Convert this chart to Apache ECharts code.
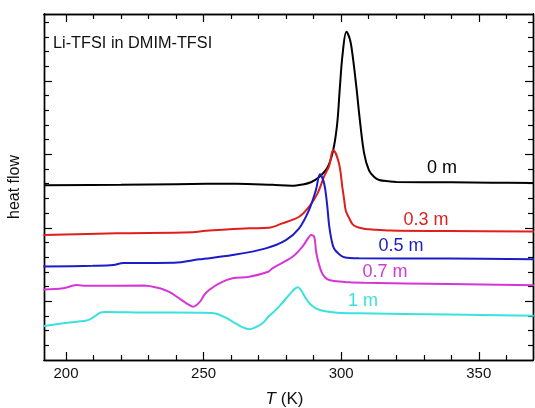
<!DOCTYPE html>
<html>
<head>
<meta charset="utf-8">
<script src="https://cdn.jsdelivr.net/npm/echarts@6/dist/echarts.min.js"></script>
<style>html,body{margin:0;padding:0;background:#fff}#c{width:535px;height:408px}</style>
</head>
<body>
<div id="c"></div>
<script>
// Temperature (K) and heat-flow (arbitrary units, stacked offsets)
var t0m = [192, 220, 240, 262, 275, 282, 286, 289, 292, 295, 297, 298.5, 299.5, 300.5, 301.9, 303.2, 304.1, 305.5, 306.8, 308.3, 310.1, 312, 313.8, 317.4, 320, 340, 355, 369.7];
var y0m = [11.90, 11.93, 11.97, 12.0, 11.92, 11.86, 11.95, 12.1, 12.45, 13.1, 14.2, 16.0, 18.5, 20.8, 22.35, 21.8, 20.8, 18.6, 16.3, 14.1, 12.9, 12.45, 12.25, 12.16, 12.12, 12.1, 12.07, 12.04];

var t03 = [191.8, 218.2, 246.0, 250.8, 266.6, 273.6, 278.6, 284.7, 288.3, 291.4, 293.8, 295.6, 297.1, 299.2, 300.4, 301.1, 301.7, 302.9, 304.1, 305.4, 308.3, 310.1, 318.0, 339.2, 370];
var y03 = [8.50, 8.62, 8.69, 8.80, 8.96, 9.0, 9.30, 9.75, 10.43, 11.34, 12.5, 13.2, 14.29, 13.38, 11.79, 10.88, 10.14, 9.66, 9.25, 9.08, 8.93, 8.90, 8.81, 8.78, 8.74];

var t05 = [191.8, 209.7, 217.2, 220.8, 239.3, 248.4, 260.5, 272.6, 279.9, 284.7, 288.3, 290.8, 292.3, 293.8, 294.9, 295.6, 296.5, 297.4, 299.2, 301.1, 306.5, 339.2, 370];
var y05 = [6.36, 6.41, 6.46, 6.60, 6.62, 6.85, 7.14, 7.60, 8.16, 8.96, 10.20, 11.56, 12.65, 12.02, 10.54, 9.18, 8.16, 7.59, 7.21, 6.99, 6.92, 6.90, 6.86];

var t07 = [191.8, 199.0, 203.8, 207.5, 228.1, 234.1, 237.5, 240.2, 243.8, 246.2, 248.7, 250.2, 252.0, 255.7, 260.5, 266.6, 273.5, 275.0, 282.3, 285.9, 288.0, 289.0, 290.2, 290.9, 292.0, 293.2, 294.9, 297.4, 302.9, 308.3, 339.2, 370];
var y07 = [4.80, 4.88, 5.10, 5.05, 5.07, 4.88, 4.63, 4.31, 3.86, 3.63, 3.97, 4.42, 4.76, 5.22, 5.56, 5.67, 6.01, 6.24, 7.03, 7.71, 8.30, 8.50, 8.37, 7.35, 6.46, 5.85, 5.51, 5.37, 5.29, 5.26, 5.17, 5.09];

var t1m = [191.8, 199.0, 207.5, 209.2, 211.1, 212.5, 214.2, 228.1, 249.9, 253.9, 257.5, 260.5, 264.0, 266.6, 268.7, 271.4, 273.8, 277.4, 282.3, 284.2, 285.4, 287.1, 288.7, 290.8, 293.8, 298.6, 306.5, 339.2, 370];
var y1m = [2.31, 2.50, 2.69, 2.82, 3.06, 3.23, 3.27, 3.24, 3.22, 3.18, 2.93, 2.62, 2.24, 2.09, 2.21, 2.50, 2.99, 3.63, 4.69, 4.95, 4.76, 4.20, 3.81, 3.52, 3.33, 3.22, 3.18, 3.10, 3.01];

var seriesNames = ['0 m', '0.3 m', '0.5 m', '0.7 m', '1 m'];
var seriesColors = ['#000000', '#e01e1e', '#1c1cc8', '#d636d6', '#3ce0e0'];

var xMajorTicks = [200, 250, 300, 350];
var xMinorTicks = [210, 220, 230, 240, 260, 270, 280, 290, 310, 320, 330, 340, 360];
var yMajorTicks = [4, 9, 14, 19];
var yMinorTicks = [1, 2, 3, 5, 6, 7, 8, 10, 11, 12, 13, 15, 16, 17, 18, 20, 21, 22, 23];

var xMin = 192, xMax = 369.7, yMin = 0, yMax = 23.55;

function pairs(xs, ys) { return xs.map(function (x, i) { return [x, ys[i]]; }); }
var allT = [t0m, t03, t05, t07, t1m];
var allY = [y0m, y03, y05, y07, y1m];

var FONT = 'Liberation Sans, Arial';
var axisLine = { show: true, onZero: false, lineStyle: { color: '#000', width: 1.4 } };
function xAx(pos, ticks, len, labels, extra) {
  var a = {
    type: 'value', position: pos, min: xMin, max: xMax, gridIndex: 0,
    axisLine: axisLine, splitLine: { show: false },
    axisTick: { show: true, inside: true, length: len, customValues: ticks, lineStyle: { color: '#000', width: 1.2 } },
    axisLabel: labels ? { show: true, customValues: ticks, color: '#111', fontSize: 15, fontFamily: FONT, margin: 6 } : { show: false }
  };
  if (extra) for (var k in extra) a[k] = extra[k];
  return a;
}
function yAx(pos, ticks, len) {
  return {
    type: 'value', position: pos, min: yMin, max: yMax, gridIndex: 0,
    axisLine: axisLine, splitLine: { show: false },
    axisTick: { show: true, inside: true, length: len, customValues: ticks, lineStyle: { color: '#000', width: 1.2 } },
    axisLabel: { show: false }
  };
}

var chart = echarts.init(document.getElementById('c'), null, { renderer: 'canvas' });
chart.setOption({
  animation: false,
  backgroundColor: '#fff',
  grid: { left: 44, top: 14, right: 2, bottom: 48, containLabel: false, outerBoundsMode: 'none' },
  xAxis: [
    xAx('bottom', xMajorTicks, 8, true, {
      name: '{i|T} (K)', nameLocation: 'middle', nameGap: 31,
      nameTextStyle: { color: '#111', fontSize: 17, fontFamily: FONT, padding: [0, 8, 0, 0], rich: { i: { fontStyle: 'italic', fontSize: 17, fontFamily: FONT, color: '#111' } } }
    }),
    xAx('bottom', xMinorTicks, 5, false),
    xAx('top', xMajorTicks, 8, false),
    xAx('top', xMinorTicks, 5, false)
  ],
  yAxis: [
    (function () { var a = yAx('left', yMajorTicks, 8); a.name = 'heat flow'; a.nameLocation = 'middle'; a.nameGap = 21; a.nameTextStyle = { color: '#111', fontSize: 16, fontFamily: FONT }; return a; })(),
    yAx('left', yMinorTicks, 5),
    yAx('right', yMajorTicks, 8),
    yAx('right', yMinorTicks, 5)
  ],
  series: seriesNames.map(function (n, i) {
    return {
      name: n, type: 'line', xAxisIndex: 0, yAxisIndex: 0,
      data: pairs(allT[i], allY[i]), showSymbol: false, smooth: 0.35,
      lineStyle: { color: seriesColors[i], width: 2 }, itemStyle: { color: seriesColors[i] }
    };
  }),
  graphic: [
    { type: 'text', left: 53, top: 36, style: { text: 'Li-TFSI in DMIM-TFSI', fill: '#111', fontSize: 16.3, fontFamily: FONT } },
    { type: 'text', x: 442, y: 168, style: { text: seriesNames[0], fill: seriesColors[0], fontSize: 18, fontFamily: FONT, align: 'center', verticalAlign: 'middle' } },
    { type: 'text', x: 426, y: 220, style: { text: seriesNames[1], fill: seriesColors[1], fontSize: 18, fontFamily: FONT, align: 'center', verticalAlign: 'middle' } },
    { type: 'text', x: 401, y: 246.5, style: { text: seriesNames[2], fill: seriesColors[2], fontSize: 18, fontFamily: FONT, align: 'center', verticalAlign: 'middle' } },
    { type: 'text', x: 385, y: 272.5, style: { text: seriesNames[3], fill: seriesColors[3], fontSize: 18, fontFamily: FONT, align: 'center', verticalAlign: 'middle' } },
    { type: 'text', x: 363, y: 301.5, style: { text: seriesNames[4], fill: seriesColors[4], fontSize: 18, fontFamily: FONT, align: 'center', verticalAlign: 'middle' } }
  ]
});
</script>
</body>
</html>
